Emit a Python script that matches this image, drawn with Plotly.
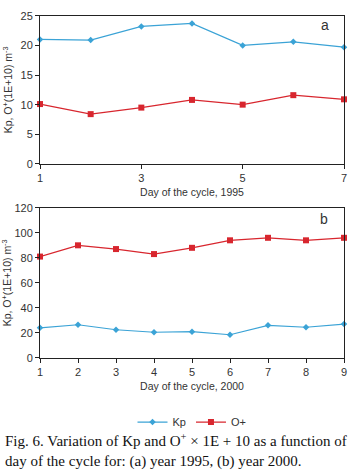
import plotly.graph_objects as go

days_a = [1, 2, 3, 4, 5, 6, 7]
kp_a = [21.0, 20.9, 23.2, 23.7, 20.0, 20.6, 19.7]
op_a = [10.1, 8.4, 9.5, 10.8, 10.0, 11.6, 10.9]

days_b = [1, 2, 3, 4, 5, 6, 7, 8, 9]
kp_b = [24.0, 26.5, 22.5, 20.5, 21.0, 18.5, 26.0, 24.5, 27.0]
op_b = [81, 90, 87, 83, 88, 94, 96, 94, 96]

BLUE = "#3ba3d6"
RED = "#d8262e"
AX = "#222222"
TXT = "#333333"

fig = go.Figure()
fig.add_trace(go.Scatter(x=days_a, y=kp_a, name="Kp", mode="lines+markers",
                         line=dict(color=BLUE, width=1.2),
                         marker=dict(symbol="diamond", size=5, color=BLUE),
                         xaxis="x", yaxis="y", cliponaxis=False))
fig.add_trace(go.Scatter(x=days_a, y=op_a, name="O+", mode="lines+markers",
                         line=dict(color=RED, width=1.2),
                         marker=dict(symbol="square", size=6, color=RED),
                         xaxis="x", yaxis="y", cliponaxis=False))
fig.add_trace(go.Scatter(x=days_b, y=kp_b, name="Kp", mode="lines+markers",
                         line=dict(color=BLUE, width=1.2),
                         marker=dict(symbol="diamond", size=5, color=BLUE),
                         xaxis="x2", yaxis="y2", cliponaxis=False, showlegend=False))
fig.add_trace(go.Scatter(x=days_b, y=op_b, name="O+", mode="lines+markers",
                         line=dict(color=RED, width=1.2),
                         marker=dict(symbol="square", size=6, color=RED),
                         xaxis="x2", yaxis="y2", cliponaxis=False, showlegend=False))

H = 476.0
def py(px):
    return 1 - px / H

axcommon = dict(showline=True, linecolor=AX, linewidth=1, mirror=True,
                ticks="outside", ticklen=4, tickcolor=AX, showgrid=False,
                zeroline=False, tickfont=dict(family="Liberation Sans, Arial", size=11, color=TXT))
ytitle = "Kp, O<sup>+</sup>(1E+10) m<sup>-3</sup>"

fig.update_layout(
    width=355, height=476,
    margin=dict(l=40, r=11, t=0, b=0),
    paper_bgcolor="white", plot_bgcolor="white",
    font=dict(family="Liberation Sans, Arial", size=11, color=TXT),
    xaxis=dict(range=[1, 7], tickvals=[1, 3, 5, 7], domain=[0, 1], anchor="y",
               title=dict(text="Day of the cycle, 1995", font=dict(size=10.5), standoff=5),
               **axcommon),
    yaxis=dict(range=[0, 25], dtick=5, domain=[py(162), py(10)], anchor="x",
               title=dict(text=ytitle, font=dict(size=10.5), standoff=5), **axcommon),
    xaxis2=dict(range=[1, 9], dtick=1, domain=[0, 1], anchor="y2",
                title=dict(text="Day of the cycle, 2000", font=dict(size=10.5), standoff=5),
                **axcommon),
    yaxis2=dict(range=[0, 120], dtick=20, domain=[py(361), py(207)], anchor="x2",
                title=dict(text=ytitle, font=dict(size=10.5), standoff=5), **axcommon),
    legend=dict(orientation="h", x=0.5, xanchor="center", y=py(412), yanchor="top",
                font=dict(size=11, color=TXT), itemwidth=30, bgcolor="rgba(0,0,0,0)"),
    showlegend=True,
)

fig.add_annotation(text="a", xref="paper", yref="paper", x=(325 - 40) / 304.0, y=py(20),
                   showarrow=False, font=dict(size=14, color=TXT), xanchor="center", yanchor="middle")
fig.add_annotation(text="b", xref="paper", yref="paper", x=(324 - 40) / 304.0, y=py(218),
                   showarrow=False, font=dict(size=14, color=TXT), xanchor="center", yanchor="middle")
fig.add_annotation(
    text="Fig. 6. Variation of Kp and O<sup>+</sup> × 1E + 10 as a function of<br>day of the cycle for: (a) year 1995, (b) year 2000.",
    xref="paper", yref="paper", x=-37 / 304.0, y=py(434), xanchor="left", yanchor="top",
    align="left", showarrow=False,
    font=dict(family="Liberation Serif, Times New Roman", size=15, color="#111111"))

fig.write_html("out.html", config={"displayModeBar": False},
               post_script="document.body.style.margin='0';document.body.style.overflow='hidden';")
